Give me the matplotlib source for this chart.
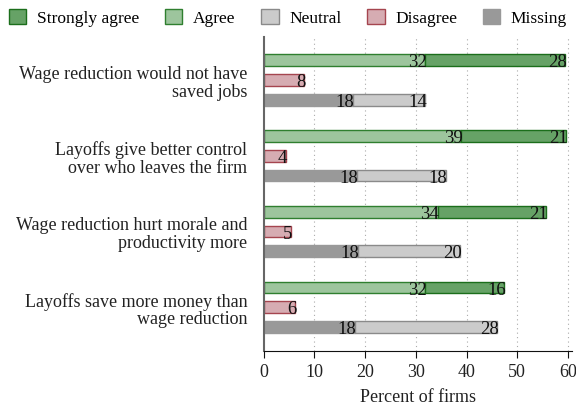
import numpy as np
import matplotlib
matplotlib.use("Agg")
import matplotlib.pyplot as plt
from matplotlib.patches import Patch

plt.rcParams['font.family'] = ['Liberation Serif', 'DejaVu Serif']

# Data
statements = [
    'Wage reduction would not have\nsaved jobs',
    'Layoffs give better control\nover who leaves the firm',
    'Wage reduction hurt morale and\nproductivity more',
    'Layoffs save more money than\nwage reduction',
]
agree = [31.9, 38.9, 34.3, 31.8]
strongly_agree = [27.6, 20.7, 21.4, 15.6]
disagree = [8.0, 4.3, 5.3, 6.2]
missing = [17.5, 18.3, 18.5, 18.0]
neutral = [14.4, 17.6, 20.3, 28.1]

# colours (face, edge)
c_strong = ('#66a266', '#1b6e1b')
c_agree = ('#9dc59d', '#2f7f2f')
c_neutral = ('#cbcbcb', '#8a8a8a')
c_disagree = ('#d6acb2', '#a5454f')
c_missing = ('#999999', '#999999')

fs = 13

fig = plt.figure(figsize=(5.76, 4.06), dpi=100)
ax = fig.add_axes([0.458, 0.133, 0.535, 0.773])

group_gap = 3.83
centers = np.arange(len(statements)) * group_gap
y_agree = centers - 1
y_dis = centers
y_miss = centers + 1
h = 0.6


def label_bars(bars, vals):
    for b, v in zip(bars, vals):
        ax.text(b.get_x() + b.get_width() + 0.3, b.get_y() + b.get_height() / 2 + 0.08,
                '%.0f' % v, ha='right', va='center', fontsize=fs + 0.5, color='#111111')


b1 = ax.barh(y_agree, agree, height=h, color=c_agree[0], edgecolor=c_agree[1], linewidth=1)
b2 = ax.barh(y_agree, strongly_agree, left=agree, height=h, color=c_strong[0],
             edgecolor=c_strong[1], linewidth=1)
b3 = ax.barh(y_dis, disagree, height=h, color=c_disagree[0], edgecolor=c_disagree[1], linewidth=1)
b4 = ax.barh(y_miss, missing, height=h, color=c_missing[0], edgecolor=c_missing[1], linewidth=1)
b5 = ax.barh(y_miss, neutral, left=missing, height=h, color=c_neutral[0],
             edgecolor=c_neutral[1], linewidth=1)
for bars, vals in [(b1, agree), (b2, strongly_agree), (b3, disagree), (b4, missing), (b5, neutral)]:
    label_bars(bars, vals)

ax.set_xlim(0, 60.8)
ax.set_ylim(centers[-1] + 1 + 1.21, centers[0] - 1 - 1.16)
ax.set_xticks([0, 10, 20, 30, 40, 50, 60])
ax.set_yticks(centers)
ax.set_yticklabels(statements, fontsize=fs, color='#222222', linespacing=1.05)
ax.tick_params(axis='x', labelsize=fs, length=5, colors='#111111', labelcolor='#222222')
ax.tick_params(axis='y', length=0, pad=12)
ax.set_xlabel('Percent of firms', fontsize=fs, color='#222222', labelpad=6)

for x in [10, 20, 30, 40, 50, 60]:
    ax.axvline(x, color='#aaaaaa', linestyle=(0, (1, 3)), linewidth=0.8, zorder=0)

ax.spines['top'].set_visible(False)
ax.spines['right'].set_visible(False)
ax.spines['left'].set_color('#666666')
ax.spines['left'].set_linewidth(1.5)
ax.spines['bottom'].set_color('#111111')

handles = [
    Patch(facecolor=c_strong[0], edgecolor=c_strong[1], label='Strongly agree'),
    Patch(facecolor=c_agree[0], edgecolor=c_agree[1], label='Agree'),
    Patch(facecolor=c_neutral[0], edgecolor=c_neutral[1], label='Neutral'),
    Patch(facecolor=c_disagree[0], edgecolor=c_disagree[1], label='Disagree'),
    Patch(facecolor=c_missing[0], edgecolor=c_missing[1], label='Missing'),
]
fig.legend(handles=handles, loc='upper center', bbox_to_anchor=(0.5, 1.015), ncol=5,
           frameon=False, fontsize=12.5, handlelength=1.0, handleheight=1.0,
           columnspacing=1.5, handletextpad=0.6)

fig.savefig('out.png', dpi=100)
